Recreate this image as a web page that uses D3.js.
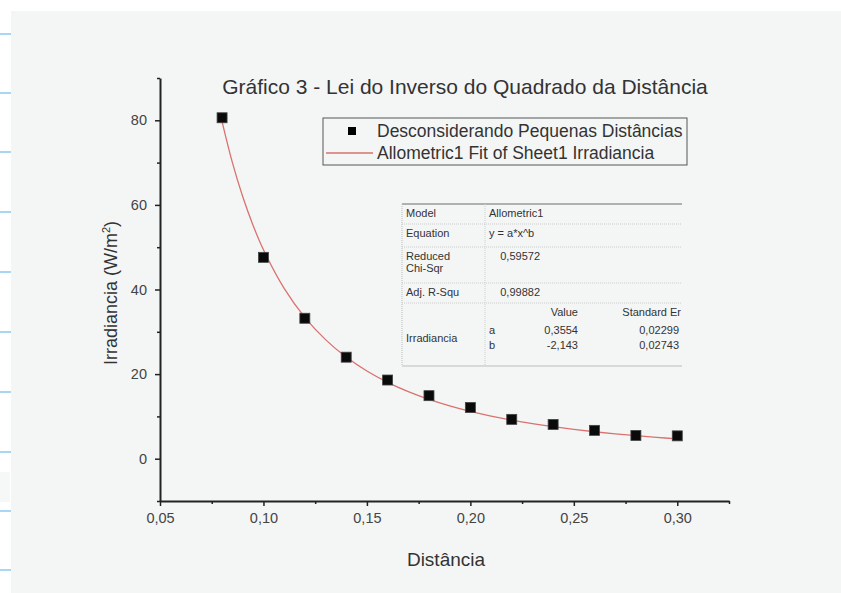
<!DOCTYPE html>
<html lang="en">
<head>
<meta charset="utf-8">
<title>Gráfico 3 - Lei do Inverso do Quadrado da Distância</title>
<script src="https://d3js.org/d3.v7.min.js"></script>
<style>
  body { margin: 0; background: #fff; }
  svg { display: block; font-family: "Liberation Sans", Arial, sans-serif; }
</style>
</head>
<body>
<div id="chart"></div>
<script>
// data
const distancia = [0.08, 0.10, 0.12, 0.14, 0.16, 0.18, 0.20, 0.22, 0.24, 0.26, 0.28, 0.30];
const irradiancia = [80.6, 47.6, 33.2, 24.0, 18.6, 14.9, 12.1, 9.3, 8.1, 6.7, 5.5, 5.4];
const xTicks = [0.05, 0.10, 0.15, 0.20, 0.25, 0.30];
const yTicks = [0, 20, 40, 60, 80];
// allometric fit parameters shown in the table (y = a*x^b)
const fitA = 0.3554, fitB = -2.143;
const fitX = [0.08, 0.085, 0.09, 0.095, 0.10, 0.11, 0.12, 0.13, 0.14, 0.15, 0.16, 0.17, 0.18, 0.19,
              0.20, 0.21, 0.22, 0.23, 0.24, 0.25, 0.26, 0.27, 0.28, 0.29, 0.30];
const tableRows = [
  ["Model", "Allometric1"],
  ["Equation", "y = a*x^b"],
  ["Reduced\nChi-Sqr", "0,59572"],
  ["Adj. R-Squ", "0,99882"]
];
const paramNames = ["a", "b"];
const paramValues = ["0,3554", "-2,143"];
const paramErrors = ["0,02299", "0,02743"];
const blueLines = [34, 93, 152, 212, 272, 332, 392, 452, 511, 570];

const W = 841, H = 593;
const margin = {left: 160, right: 112, top: 78, bottom: 92};

const svg = d3.select("#chart").append("svg")
  .attr("width", W)
  .attr("height", H);

// page background: notebook strip on the left, grey panel
svg.append("rect").attr("width", W).attr("height", H).attr("fill", "#ffffff");
svg.selectAll(".bl")
  .data(blueLines)
  .enter().append("rect")
  .attr("x", 0).attr("y", d => d - 1)
  .attr("width", 11).attr("height", 2)
  .attr("fill", "#a9d6f2");
svg.append("rect").attr("x", 0).attr("y", 472).attr("width", 10).attr("height", 30).attr("fill", "#f6f7f7");
svg.append("rect")
  .attr("x", 11).attr("y", 11)
  .attr("width", W - 11).attr("height", H - 11)
  .attr("fill", "#f4f6f6");

const x = d3.scaleLinear()
  .domain([0.05, 0.325])
  .range([margin.left, W - margin.right]);

const y = d3.scaleLinear()
  .domain([-10, 90])
  .range([H - margin.bottom, margin.top]);

const fmt = d => d3.format(".2f")(d).replace(".", ",");

// x axis
svg.append("g")
  .attr("transform", "translate(0," + (H - margin.bottom) + ")")
  .call(d3.axisBottom(x).tickValues(xTicks).tickFormat(fmt).tickSize(5).tickSizeOuter(0).tickPadding(7));
svg.append("g")
  .attr("transform", "translate(0," + (H - margin.bottom) + ")")
  .call(d3.axisBottom(x).tickValues([0.075, 0.125, 0.175, 0.225, 0.275, 0.325]).tickFormat("").tickSize(3).tickSizeOuter(0))
  .select(".domain").remove();

// y axis
svg.append("g")
  .attr("transform", "translate(" + margin.left + ",0)")
  .call(d3.axisLeft(y).tickValues(yTicks).tickSize(5).tickSizeOuter(0).tickPadding(8));
svg.append("g")
  .attr("transform", "translate(" + margin.left + ",0)")
  .call(d3.axisLeft(y).tickValues([-10, 10, 30, 50, 70, 90]).tickFormat("").tickSize(3).tickSizeOuter(0))
  .select(".domain").remove();

svg.selectAll(".domain").attr("stroke", "#222").attr("stroke-width", 2);
svg.selectAll(".tick line").attr("stroke", "#222").attr("stroke-width", 1.5);
svg.selectAll(".tick text").attr("fill", "#444").style("font-size", "14.5px");

// axis labels
svg.append("text")
  .attr("x", 446).attr("y", 566)
  .attr("text-anchor", "middle")
  .attr("fill", "#333")
  .style("font-size", "19px")
  .text("Distância");

svg.append("text")
  .attr("transform", "translate(117," + 293 + ") rotate(-90)")
  .attr("text-anchor", "middle")
  .attr("fill", "#333")
  .style("font-size", "18px")
  .html("Irradiancia (W/m<tspan dy='-7' font-size='11px'>2</tspan><tspan dy='7'>)</tspan>");

// title
svg.append("text")
  .attr("x", 465).attr("y", 94)
  .attr("text-anchor", "middle")
  .attr("fill", "#333")
  .style("font-size", "21px")
  .text("Gráfico 3 - Lei do Inverso do Quadrado da Distância");

// fit curve
const line = d3.line()
  .x(d => x(d))
  .y(d => y(fitA * Math.pow(d, fitB)))
  .curve(d3.curveCatmullRom);

svg.append("path")
  .datum(fitX)
  .attr("d", line)
  .attr("fill", "none")
  .attr("stroke", "#d9726f")
  .attr("stroke-width", 1.3);

// scatter points
svg.selectAll(".pt")
  .data(distancia)
  .enter().append("rect")
  .attr("class", "pt")
  .attr("x", (d, i) => x(d) - 5)
  .attr("y", (d, i) => y(irradiancia[i]) - 5)
  .attr("width", 10).attr("height", 10)
  .attr("fill", "#0a0a0a")
  .attr("stroke", "#444")
  .attr("stroke-width", 0.8);

// legend
const legend = svg.append("g");
legend.append("rect")
  .attr("x", 323).attr("y", 118)
  .attr("width", 364).attr("height", 47)
  .attr("fill", "none")
  .attr("stroke", "#555")
  .attr("stroke-width", 1);
legend.append("rect")
  .attr("x", 348).attr("y", 127)
  .attr("width", 8).attr("height", 8)
  .attr("fill", "#000");
legend.append("text")
  .attr("x", 377).attr("y", 137)
  .attr("fill", "#333")
  .style("font-size", "17.5px")
  .text("Desconsiderando Pequenas Distâncias");
legend.append("line")
  .attr("x1", 326).attr("x2", 373)
  .attr("y1", 153).attr("y2", 153)
  .attr("stroke", "#d9726f")
  .attr("stroke-width", 1.3);
legend.append("text")
  .attr("x", 377).attr("y", 159)
  .attr("fill", "#333")
  .style("font-size", "17.5px")
  .text("Allometric1 Fit of Sheet1 Irradiancia");

// fit results table
const tbl = svg.append("g").style("font-size", "11px").attr("fill", "#333");
const tx0 = 402, tx1 = 485, tx2 = 682;
const rowTops = [204, 224, 247, 283, 303];
const tblBottom = 366;

tbl.append("line").attr("x1", tx0).attr("x2", tx2).attr("y1", 204).attr("y2", 204)
  .attr("stroke", "#999").attr("stroke-width", 1.5);
tbl.append("line").attr("x1", tx0).attr("x2", tx2).attr("y1", tblBottom).attr("y2", tblBottom)
  .attr("stroke", "#bbb").attr("stroke-width", 1);
tbl.append("line").attr("x1", tx0).attr("x2", tx0).attr("y1", 204).attr("y2", tblBottom)
  .attr("stroke", "#bbb").attr("stroke-dasharray", "1,1");
tbl.append("line").attr("x1", tx1).attr("x2", tx1).attr("y1", 204).attr("y2", tblBottom)
  .attr("stroke", "#ccc").attr("stroke-dasharray", "1,1");
tbl.selectAll(".hl")
  .data(rowTops.slice(1))
  .enter().append("line")
  .attr("x1", tx0).attr("x2", tx2)
  .attr("y1", d => d).attr("y2", d => d)
  .attr("stroke", "#ccc").attr("stroke-dasharray", "1,1");

tableRows.forEach((r, i) => {
  const lines = r[0].split("\n");
  lines.forEach((t, j) => {
    tbl.append("text")
      .attr("x", tx0 + 4).attr("y", rowTops[i] + 13 + j * 12)
      .text(t);
  });
  tbl.append("text")
    .attr("x", i < 2 ? tx1 + 4 : 540)
    .attr("y", rowTops[i] + 13)
    .attr("text-anchor", i < 2 ? "start" : "end")
    .text(r[1]);
});

tbl.append("text").attr("x", 578).attr("y", 316).attr("text-anchor", "end").text("Value");
tbl.append("text").attr("x", 681).attr("y", 316).attr("text-anchor", "end").text("Standard Er");
tbl.append("text").attr("x", tx0 + 4).attr("y", 342).text("Irradiancia");
paramNames.forEach((p, i) => {
  const yy = 334 + i * 15;
  tbl.append("text").attr("x", tx1 + 4).attr("y", yy).text(p);
  tbl.append("text").attr("x", 578).attr("y", yy).attr("text-anchor", "end").text(paramValues[i]);
  tbl.append("text").attr("x", 679).attr("y", yy).attr("text-anchor", "end").text(paramErrors[i]);
});
</script>
</body>
</html>
